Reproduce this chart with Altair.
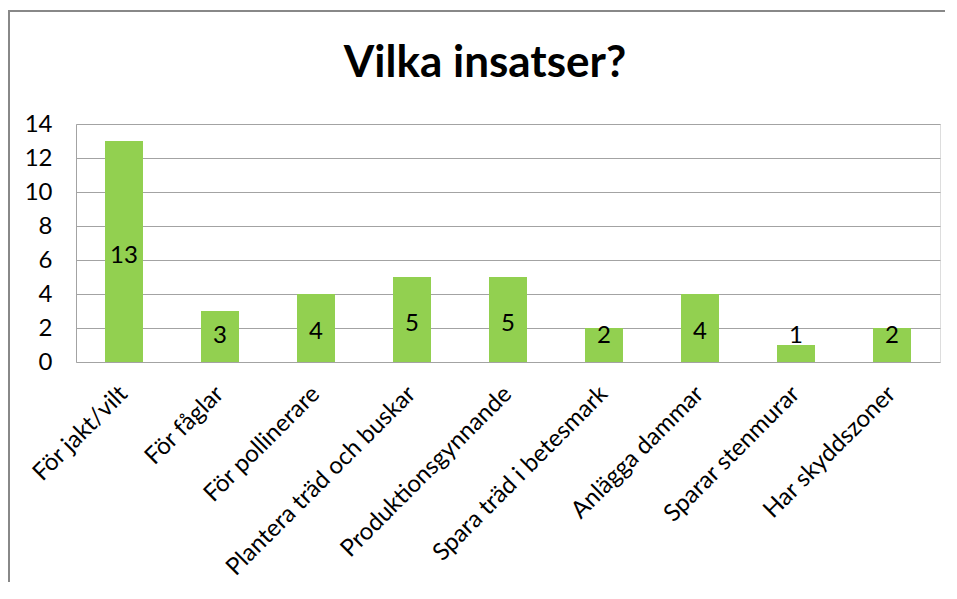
import altair as alt
import pandas as pd

categories = ["För jakt/vilt", "För fåglar", "För pollinerare", "Plantera träd och buskar",
              "Produktionsgynnande", "Spara träd i betesmark", "Anlägga dammar",
              "Sparar stenmurar", "Har skyddszoner"]
values = [13, 3, 4, 5, 5, 2, 4, 1, 2]
y_ticks = [0, 2, 4, 6, 8, 10, 12, 14]
title_text = "Vilka insatser?"

df = pd.DataFrame({"kategori": categories, "antal": values})
one = pd.DataFrame({"a": [0]})

W, H = 864, 238
PAD_L, PAD_T, PAD_R, PAD_B = 68, 116, 5, 220
FONT = "Lato"
GRID = "#a3a3a3"
BORDER = "#888888"
FS = 24

y_scale = alt.Scale(domain=[0, 14], nice=False, zero=True)
x_scale = alt.Scale(paddingInner=0, paddingOuter=0)

x_axis = alt.Axis(title=None, labelAngle=-45, labelAlign="right", labelBaseline="middle",
                  labelFont=FONT, labelFontSize=FS, labelColor="#000000",
                  ticks=False, domain=False, labelPadding=28, labelLimit=0, grid=False)
y_axis = alt.Axis(title=None, values=y_ticks, grid=True, gridColor=GRID, gridWidth=1,
                  domain=True, domainColor=GRID, ticks=False, labelPadding=24,
                  labelFont=FONT, labelFontSize=FS, labelColor="#000000")

bars = alt.Chart(df).mark_bar(color="#92D050", size=38).encode(
    x=alt.X("kategori:N", sort=categories, scale=x_scale, axis=x_axis),
    y=alt.Y("antal:Q", scale=y_scale, axis=y_axis),
)

labels = alt.Chart(df).transform_calculate(
    ly="max(datum.antal / 2 - 0.12, 1.65)"
).mark_text(font=FONT, fontSize=FS, color="#000000", baseline="middle", align="center", dy=2).encode(
    x=alt.X("kategori:N", sort=categories, scale=x_scale, axis=x_axis),
    y=alt.Y("ly:Q", scale=y_scale, axis=y_axis),
    text=alt.Text("antal:Q"),
)

top_border = alt.Chart(one).mark_rule(color=BORDER, strokeWidth=2).encode(
    x=alt.value(-PAD_L), x2=alt.value(W + PAD_R), y=alt.value(-113)
)
left_border = alt.Chart(one).mark_rule(color=BORDER, strokeWidth=2).encode(
    x=alt.value(-PAD_L + 1), y=alt.value(-113), y2=alt.value(H + PAD_B)
)

chart = alt.layer(bars, labels, top_border, left_border).properties(
    width=W, height=H,
    title=alt.TitleParams(title_text, font=FONT, fontSize=44, fontWeight="bold", color="#000000",
                          anchor="middle", frame="group", dx=-23, offset=-111, baseline="alphabetic"),
    padding={"left": PAD_L, "top": PAD_T, "right": PAD_R, "bottom": PAD_B},
    autosize=alt.AutoSizeParams(type="none"),
).configure_view(stroke=None).configure(background="#ffffff")

chart.save("out.html", embed_options={"renderer": "svg", "actions": False})
